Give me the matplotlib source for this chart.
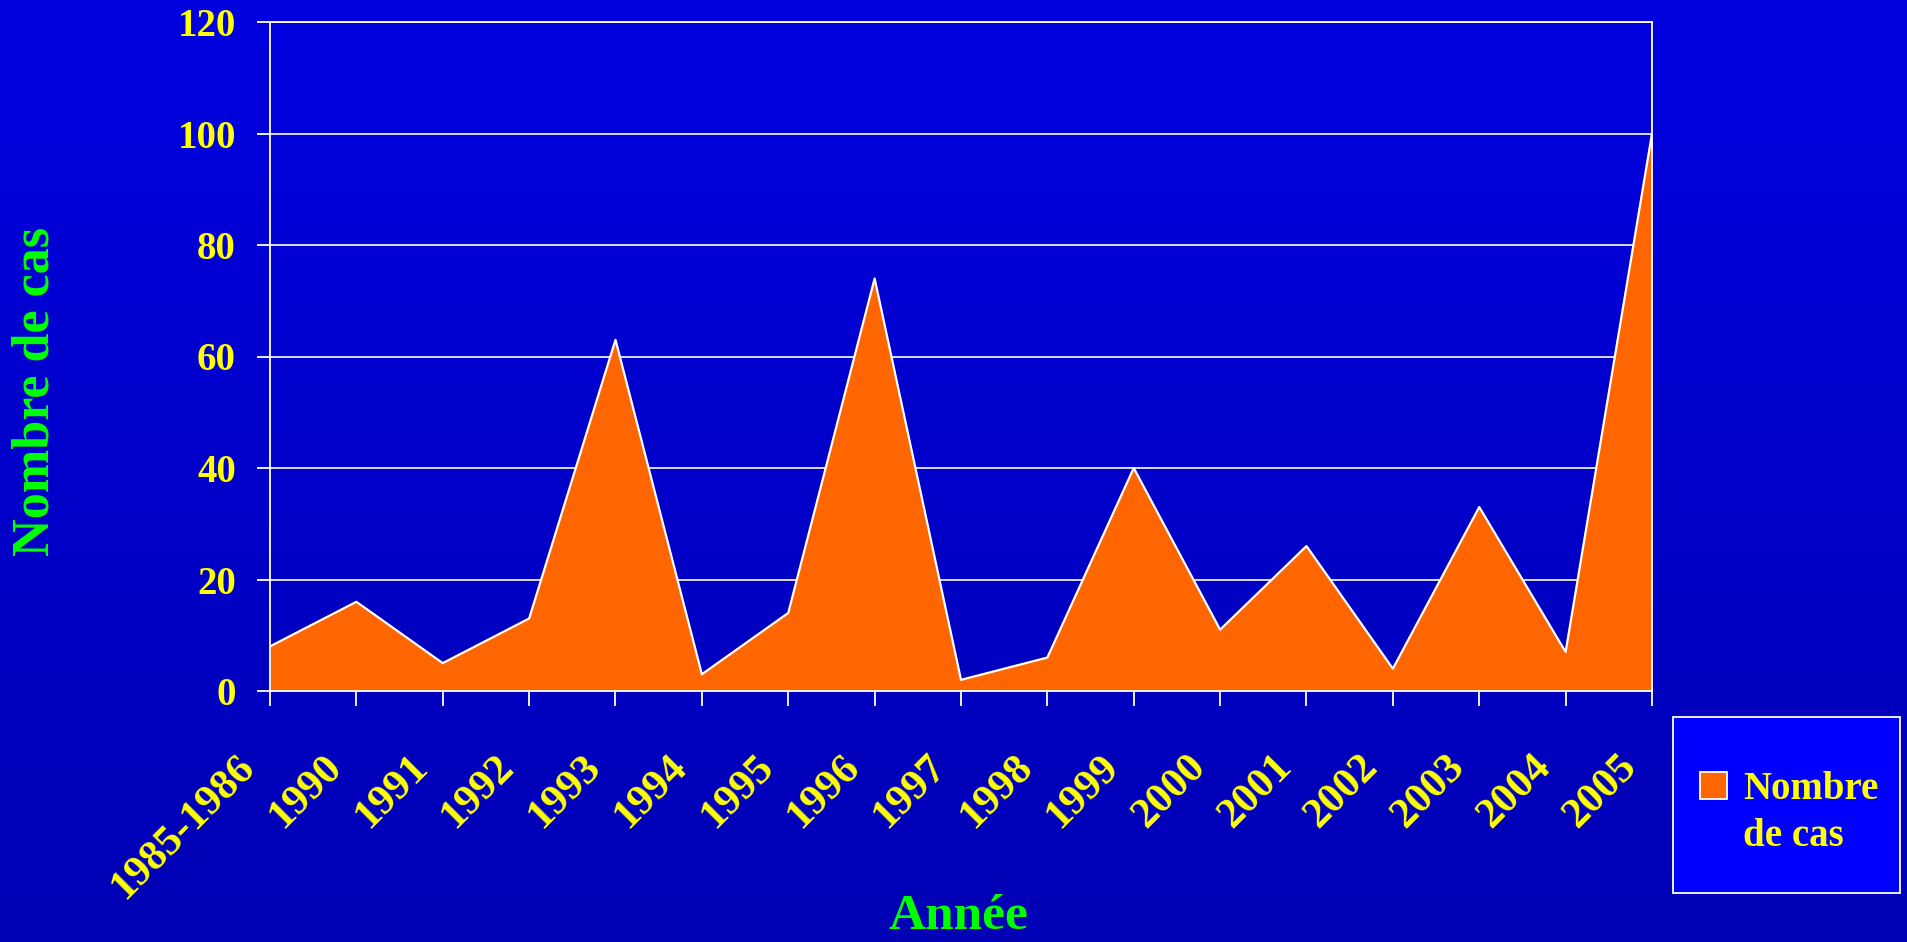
import numpy as np
import matplotlib
matplotlib.use('Agg')
import matplotlib.pyplot as plt
import matplotlib.transforms as mtransforms
from matplotlib.patches import Rectangle, Patch
from matplotlib.legend_handler import HandlerPatch

# Données
annees = ['1985-1986', '1990', '1991', '1992', '1993', '1994', '1995', '1996',
          '1997', '1998', '1999', '2000', '2001', '2002', '2003', '2004', '2005']
nombre_cas = [8, 16, 5, 13, 63, 3, 14, 74, 2, 6, 40, 11, 26, 4, 33, 7, 100]
y_ticks = [0, 20, 40, 60, 80, 100, 120]

JAUNE = '#FFFF00'
VERT = '#00FF00'
ORANGE = '#FF6600'

plt.rcParams['font.family'] = ['Liberation Serif', 'DejaVu Serif']
plt.rcParams['font.weight'] = 'bold'

fig = plt.figure(figsize=(19.08, 9.42), dpi=100)

# Fond en dégradé (haut -> bas)
bg = fig.add_axes([0, 0, 1, 1], zorder=-10)
grad = np.linspace(0, 1, 256).reshape(-1, 1)
cmap = matplotlib.colors.LinearSegmentedColormap.from_list('fond', ['#0000E0', '#0000B4'])
bg.imshow(grad, aspect='auto', cmap=cmap, extent=[0, 1, 0, 1])
bg.axis('off')

ax = fig.add_axes([270 / 1908, 1 - 691 / 942, (1652 - 270) / 1908, (691 - 22) / 942])
ax.set_facecolor('none')

x = np.arange(len(annees))
ax.fill_between(x, nombre_cas, 0, color=ORANGE, zorder=2, lw=0)
ax.plot(x, nombre_cas, color='white', lw=1.6, zorder=3)

ax.set_xlim(0, len(annees) - 1)
ax.set_ylim(0, 120)
ax.set_yticks(y_ticks)
ax.grid(axis='y', color='white', lw=1.2, zorder=1)
ax.set_axisbelow(True)

for s in ax.spines.values():
    s.set_color('white')
    s.set_linewidth(1.3)
    s.set_zorder(4)

ax.tick_params(axis='y', direction='out', length=9.5, width=1.3, color='white',
               labelcolor=JAUNE, labelsize=28, pad=15)
ax.tick_params(axis='x', direction='out', length=11, width=1.3, color='white',
               labelcolor=JAUNE, labelsize=31, pad=30)
ax.set_xticks(x)
ax.set_xticklabels(annees, rotation=45, ha='right', va='top', rotation_mode='anchor')
decal = mtransforms.ScaledTranslation(-34 / 100, 0, fig.dpi_scale_trans)
for lab in ax.get_xticklabels():
    lab.set_transform(lab.get_transform() + decal)
for lab in ax.get_yticklabels() + ax.get_xticklabels():
    lab.set_fontweight('bold')

fig.text(36 / 1908, 1 - 391 / 942, 'Nombre de cas', rotation=90, color=VERT,
         fontsize=37.5, fontweight='bold', ha='center', va='center')
fig.text(958 / 1908, 1 - 929 / 942, 'Année', color=VERT,
         fontsize=37, fontweight='bold', ha='center', va='baseline')

# Cadre de la légende
fig.patches.append(Rectangle((1673 / 1908, 1 - 893 / 942), (1900 - 1673) / 1908, (893 - 717) / 942,
                             transform=fig.transFigure, facecolor='#0000FF',
                             edgecolor='white', lw=1.3, zorder=5))


def carre_haut(legend, orig_handle, xdescent, ydescent, width, height, fontsize):
    s = width
    return Rectangle((-xdescent, -ydescent + height - s + 4), s, s)


poignee = Patch(facecolor=ORANGE, edgecolor='white', lw=1.3)
leg = fig.legend([poignee], ['Nombre\nde cas'], loc='upper left',
                 bbox_to_anchor=(1700 / 1908, 1 - 771 / 942), frameon=False,
                 fontsize=28, labelcolor=JAUNE, handlelength=0.7, handleheight=2.6,
                 handletextpad=0.4, borderpad=0, borderaxespad=0,
                 handler_map={Patch: HandlerPatch(patch_func=carre_haut)})
leg.set_zorder(6)
for t in leg.get_texts():
    t.set_fontweight('bold')
    t.set_linespacing(1.35)

fig.savefig('out.png', dpi=100)
